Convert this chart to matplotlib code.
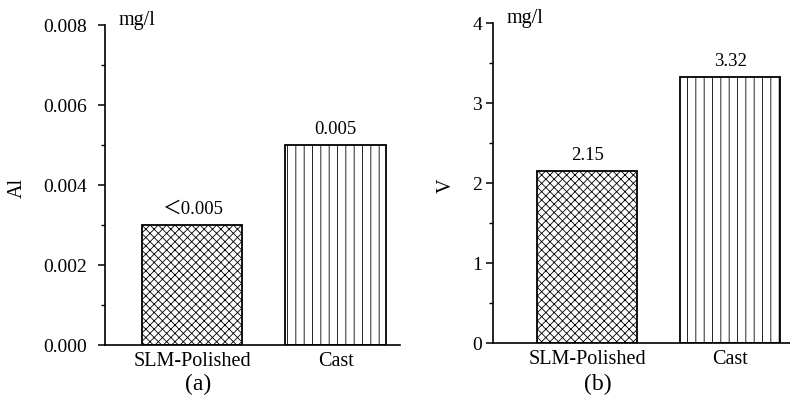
import numpy as np
import matplotlib
matplotlib.use("Agg")
import matplotlib.pyplot as plt
from matplotlib.ticker import MultipleLocator

plt.rcParams['font.family'] = ['Liberation Serif', 'Noto Sans CJK SC', 'DejaVu Sans']
plt.rcParams['hatch.linewidth'] = 0.6

# data
samples = ['SLM-Polished', 'Cast']
al_vals = [0.003, 0.005]
al_text = ['\uff1c0.005', '0.005']
v_vals = [2.15, 3.32]
v_text = ['2.15', '3.32']
hatches = ['xxxx', '||']


def draw_panel(ax, vals, texts, ylab, ymax, major, minor, fmt, pad, xl):
    x = np.arange(len(samples))
    bars = ax.bar(x, vals, width=0.7, color='white', edgecolor='black', linewidth=1.3)
    for b, h in zip(bars, hatches):
        b.set_hatch(h)
    for xi, v, t in zip(x, vals, texts):
        ax.annotate(t, (xi, v), xytext=(0, 5), textcoords='offset points',
                    ha='center', va='bottom', fontsize=13.5)
    ax.set_xlim(*xl)
    ax.set_ylim(0, ymax)
    ax.set_xticks(x)
    ax.set_xticklabels(samples, fontsize=14.5)
    ax.tick_params(axis='x', length=0, pad=5)
    ax.yaxis.set_major_locator(MultipleLocator(major))
    ax.yaxis.set_minor_locator(MultipleLocator(minor))
    ax.yaxis.set_major_formatter(fmt)
    ax.tick_params(axis='y', which='major', direction='out', length=5, width=1.1,
                   labelsize=14, pad=pad)
    ax.tick_params(axis='y', which='minor', direction='out', length=3, width=1.0)
    for s in ['top', 'right']:
        ax.spines[s].set_visible(False)
    for s in ['left', 'bottom']:
        ax.spines[s].set_linewidth(1.2)
    ax.set_ylabel(ylab, fontsize=14.5)
    ax.text(0.045, 1.015, 'mg/l', transform=ax.transAxes, ha='left', va='center', fontsize=14.5)


fig = plt.figure(figsize=(7.9, 4.07), dpi=100)
ax1 = fig.add_axes([105 / 790, 62 / 407, 295 / 790, 320 / 407])
ax2 = fig.add_axes([493 / 790, 64 / 407, 297 / 790, 320 / 407])

draw_panel(ax1, al_vals, al_text, 'Al', 0.008, 0.002, 0.001, '{x:.3f}', 8, (-0.61, 1.45))
draw_panel(ax2, v_vals, v_text, 'V', 4, 1, 0.5, '{x:.0f}', 3, (-0.66, 1.42))
ax1.yaxis.set_label_coords(-0.265, 0.49)
ax2.yaxis.set_label_coords(-0.125, 0.49)

fig.text(198 / 790, 1 - 384 / 407, '(a)', ha='center', va='center', fontsize=17)
fig.text(598 / 790, 1 - 384 / 407, '(b)', ha='center', va='center', fontsize=17)

fig.savefig('out.png', dpi=100)
